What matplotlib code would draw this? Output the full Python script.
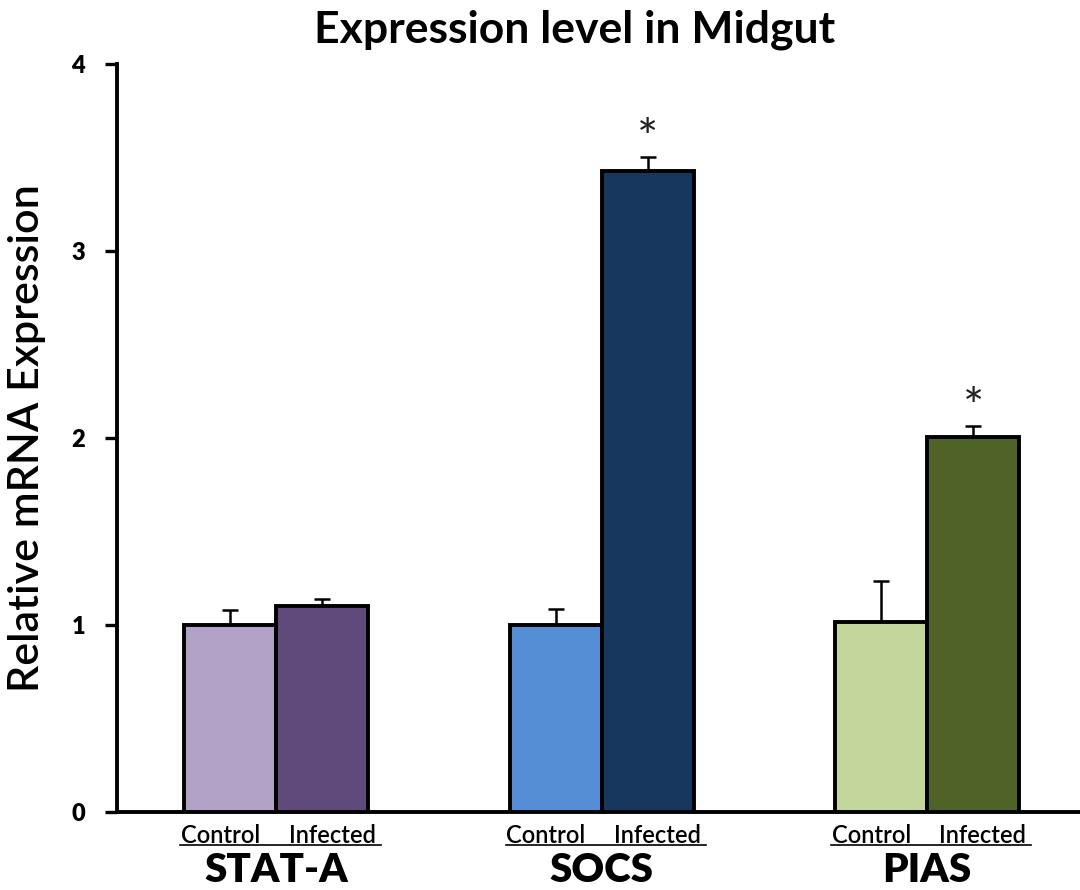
import matplotlib
matplotlib.use("Agg")
import matplotlib.pyplot as plt
import matplotlib.transforms as mtransforms
import numpy as np

genes = ["STAT-A", "SOCS", "PIAS"]
conditions = ["Control", "Infected"]
control_vals = [1.00, 1.00, 1.015]
infected_vals = [1.10, 3.43, 2.005]
control_err = [0.08, 0.085, 0.22]
infected_err = [0.04, 0.075, 0.06]
significant_infected = [False, True, True]
control_colors = ["#B3A2C7", "#558ED5", "#C3D69B"]
infected_colors = ["#604A7B", "#17375E", "#4F6228"]
yticks = [0, 1, 2, 3, 4]

plt.rcParams['font.family'] = ['Lato', 'DejaVu Sans']

fig = plt.figure(figsize=(10.8, 8.9), dpi=100)
ax = fig.add_axes([117/1080, (890-812)/890, 1 - 117/1080, (812-64)/890])

x = np.arange(len(genes))
w = 0.283
xc = x - w/2
xi = x + w/2
ax.bar(xc, control_vals, width=w, color=control_colors, edgecolor='black', linewidth=2.8, zorder=3)
ax.bar(xi, infected_vals, width=w, color=infected_colors, edgecolor='black', linewidth=2.8, zorder=3)
ax.errorbar(xc, control_vals, yerr=[np.zeros(3), control_err], fmt='none', ecolor='black',
            elinewidth=1.8, capsize=6, capthick=1.8, zorder=2)
ax.errorbar(xi, infected_vals, yerr=[np.zeros(3), infected_err], fmt='none', ecolor='black',
            elinewidth=1.8, capsize=6, capthick=1.8, zorder=2)

for xp, v, e, s in zip(xi, infected_vals, infected_err, significant_infected):
    if s:
        ax.text(xp, v + e - 0.04, "*", ha='center', va='bottom', fontsize=36, color='#222222')

ax.set_xlim(-0.49, 2.47)
ax.set_ylim(0, 4)
ax.set_yticks(yticks)
ax.set_yticklabels([str(t) for t in yticks], fontsize=17, fontweight='heavy')
ax.tick_params(axis='y', direction='out', length=9, width=2.4, pad=14)
ax.set_xticks([])
for s in ['top', 'right']:
    ax.spines[s].set_visible(False)
for s in ['left', 'bottom']:
    ax.spines[s].set_linewidth(2.8)

trans = mtransforms.blended_transform_factory(ax.transData, ax.transAxes)
for i, g in enumerate(genes):
    ax.text(xc[i] - 0.03, -0.016, conditions[0], transform=trans, ha='center', va='top',
            fontsize=17, fontweight='semibold')
    ax.text(xi[i] + 0.03, -0.016, conditions[1], transform=trans, ha='center', va='top',
            fontsize=17, fontweight='semibold')
    ax.plot([x[i] - 0.295, x[i] + 0.32], [-0.044, -0.044], transform=trans, color='black',
            linewidth=1.2, clip_on=False)
    ax.text(x[i], -0.054, g, transform=trans, ha='center', va='top', fontsize=29, fontweight='heavy')

ax.set_ylabel("Relative mRNA Expression", fontsize=31, fontweight='semibold', labelpad=18)
fig.text(575/1080, 1 - 30/890, "Expression level in Midgut", ha='center', va='center',
         fontsize=32, fontweight='bold')

fig.savefig("out.png", dpi=100, facecolor='white')
